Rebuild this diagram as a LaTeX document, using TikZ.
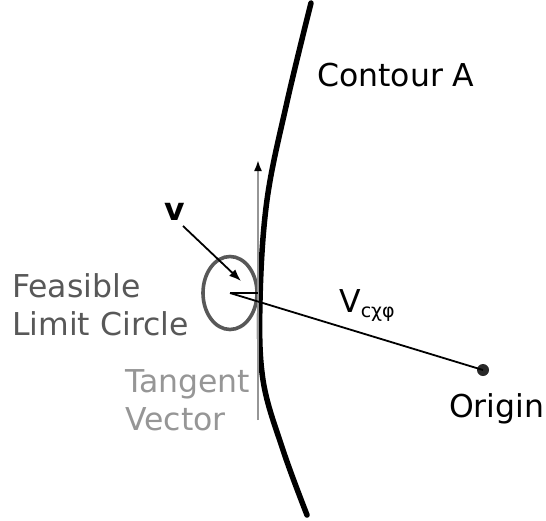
\documentclass[tikz,border=0pt]{standalone}
\usepackage{fontspec}
\setmainfont{DejaVu Sans}
\usetikzlibrary{arrows.meta}
\definecolor{ctredge}{RGB}{0,0,0}
\definecolor{circgray}{RGB}{88,88,88}
\definecolor{tangray}{RGB}{150,150,150}
\definecolor{dotgray}{RGB}{40,40,40}
\tikzset{
  lbl/.style={inner sep=0pt, font=\fontsize{31.5}{38}\selectfont, align=left},
  contour/.style={draw=ctredge, line width=5.5pt, line cap=round},
  tanvec/.style={draw=tangray, line width=2pt,
    -{Latex[length=11pt,width=8pt,color=black]}},
  arr/.style={-{Latex[length=12pt,width=9pt]}, draw=black, line width=1.8pt},
  ray/.style={draw=black, line width=1.8pt}
}
\begin{document}
\begin{tikzpicture}[x=1pt,y=-1pt]
  \useasboundingbox (0,0) rectangle (546,520);
  % contour
  \draw[contour] plot[smooth, tension=0.6] coordinates {
    (311,3) (287,102) (267,200) (260,300) (263,380) (283,450) (307,515)};
  \node[lbl, anchor=base west] (cntlbl) at (317,86) {Contour A};
  % feasible limit circle
  \coordinate (ctr) at (230,293);
  \draw[circgray, line width=3.6pt] (ctr) ellipse [x radius=27, y radius=36.5];
  \node[lbl, anchor=north west, text=circgray] (feaslbl) at (12,273.5)
    {Feasible\\Limit Circle};
  % tangent vector
  \coordinate (tanbot) at (258,420);
  \coordinate (tantop) at (258,160);
  \draw[tanvec] (tanbot) -- (tantop);
  \node[lbl, anchor=north west, text=tangray] (tanlbl) at (125,369.5)
    {Tangent\\Vector};
  % v
  \node[lbl, anchor=base west, font=\fontsize{31.5}{38}\selectfont\bfseries] (vlbl) at (164,220) {v};
  \coordinate (vtail) at (183,226);
  \coordinate (vtip) at (241,281);
  \draw[arr] (vtail) -- (vtip);
  % origin
  \node[circle, fill=dotgray, inner sep=0pt, minimum size=12pt] (orig) at (483,370) {};
  \node[lbl, anchor=base west] (origlbl) at (449,417) {Origin};
  \coordinate (tanpt) at (258,293);
  \draw[ray] (ctr) -- (tanpt);
  \draw[ray] (ctr) -- (orig.center);
  \node[lbl, anchor=base west] (vclbl) at (339,312)
    {V{\fontsize{19}{19}\selectfont\raisebox{-5pt}{cχφ}}};
\end{tikzpicture}
\end{document}
